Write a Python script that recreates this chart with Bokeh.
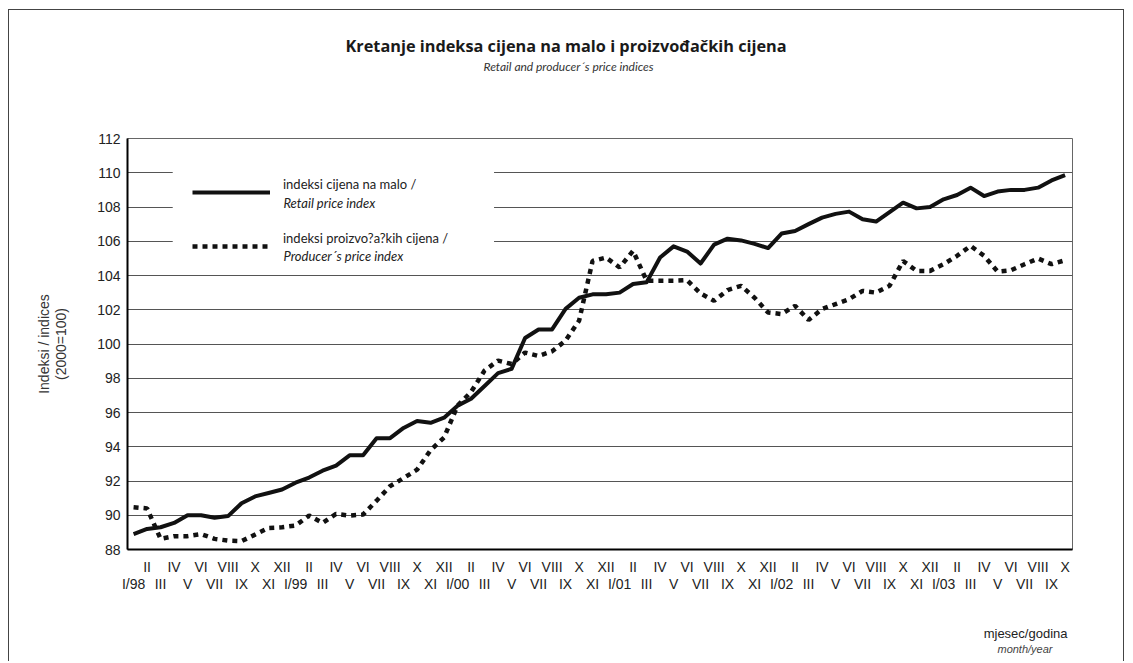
from bokeh.plotting import figure
from bokeh.models import (Range1d, FixedTicker, LinearAxis, Title, Legend, LegendItem, Label,
                          BoxAnnotation)
from bokeh.embed import file_html
from bokeh.resources import INLINE

# ---- data ----
roman = ["I", "II", "III", "IV", "V", "VI", "VII", "VIII", "IX", "X", "XI", "XII"]
years = ["98", "99", "00", "01", "02", "03"]
n_months = 70  # I/98 .. X/03

retail = [88.9, 89.2, 89.3, 89.55, 90.0, 90.0, 89.85, 89.95, 90.7, 91.1,
          91.3, 91.5, 91.9, 92.2, 92.6, 92.9, 93.5, 93.5, 94.5, 94.5,
          95.1, 95.5, 95.4, 95.7, 96.4, 96.8, 97.55, 98.3, 98.55, 100.35,
          100.85, 100.85, 102.05, 102.7, 102.9, 102.9, 103.0, 103.5, 103.6, 105.05,
          105.7, 105.4, 104.7, 105.8, 106.15, 106.05, 105.85, 105.6, 106.45, 106.6,
          107.0, 107.38, 107.6, 107.73, 107.28, 107.15, 107.7, 108.25, 107.92, 108.0,
          108.45, 108.7, 109.13, 108.64, 108.9, 109.0, 109.0, 109.13, 109.55, 109.86]

producer = [90.47, 90.4, 88.62, 88.78, 88.78, 88.9, 88.62, 88.52, 88.49, 88.87,
            89.26, 89.3, 89.4, 89.98, 89.55, 90.08, 89.98, 90.04, 90.85, 91.7,
            92.17, 92.66, 93.8, 94.54, 96.4, 97.2, 98.45, 99.03, 98.83, 99.5,
            99.3, 99.57, 100.2, 101.36, 104.85, 105.05, 104.47, 105.44, 103.7, 103.7,
            103.7, 103.73, 102.95, 102.52, 103.15, 103.4, 102.7, 101.84, 101.75, 102.23,
            101.4, 102.04, 102.33, 102.62, 103.1, 103.0, 103.4, 104.85, 104.27, 104.27,
            104.66, 105.15, 105.73, 105.15, 104.23, 104.31, 104.66, 104.99, 104.66, 104.89]

y_ticks = [88, 90, 92, 94, 96, 98, 100, 102, 104, 106, 108, 110, 112]

# month labels
month_labels = []
for k in range(n_months):
    m = k % 12
    lab = roman[m]
    if m == 0:
        lab = "I/" + years[k // 12]
    month_labels.append(lab)

x = list(range(n_months))

title_text = "Kretanje indeksa cijena na malo i proizvođačkih cijena"
subtitle_text = "Retail and producer´s price indices"

p = figure(width=1116, height=652,
           x_range=Range1d(-0.45, 69.55), y_range=Range1d(88, 112),
           output_backend="svg", toolbar_location=None,
           min_border_left=118, min_border_right=53,
           min_border_top=128, min_border_bottom=113,
           title=title_text)
p.margin = (9, 0, 0, 8)
p.styles = {"border-top": "1px solid #444", "border-left": "1px solid #444",
            "border-right": "1px solid #444"}
p.background_fill_color = "white"
p.border_fill_color = "white"
p.outline_line_color = "#666"
p.outline_line_width = 1

# title (outermost), subtitle and a spacer below it
p.title.align = "left"
p.title.offset = 218
p.title.text_font = "Open Sans"
p.title.text_font_size = "16.3px"
p.title.text_font_style = "bold"
p.title.text_color = "#1a1a1a"
p.title.standoff = 0

spacer_top = Title(text="\u00a0", text_font_size="2px", standoff=61)
p.add_layout(spacer_top, "above")
sub = Title(text=subtitle_text, align="left", offset=356, text_font="Lato",
            text_font_size="12px", text_font_style="italic", text_color="#333333",
            standoff=0)
p.add_layout(sub, "above")

# lines
r1 = p.line(x, retail, line_color="#111111", line_width=4, line_join="round")
r2 = p.line(x, producer, line_color="#111111", line_width=4.5, line_dash="5 5",
            line_cap="butt")

# grid
p.xgrid.visible = False
p.ygrid.ticker = FixedTicker(ticks=y_ticks)
p.ygrid.grid_line_color = "#555555"
p.ygrid.grid_line_width = 1

# y axis
ya = p.yaxis[0]
ya.ticker = FixedTicker(ticks=y_ticks)
ya.axis_line_width = 2
ya.axis_line_color = "black"
ya.major_tick_out = 0
ya.major_tick_in = 0
ya.minor_tick_out = 0
ya.minor_tick_in = 0
ya.major_label_standoff = 7
ya.major_label_text_font = "Liberation Sans"
ya.major_label_text_font_size = "14px"
ya.major_label_text_color = "#222222"
ya.axis_label = "Indeksi / indices\n(2000=100)"
ya.axis_label_text_font = "Liberation Sans"
ya.axis_label_text_font_size = "14px"
ya.axis_label_text_font_style = "normal"
ya.axis_label_text_color = "#333333"
ya.axis_label_text_line_height = 1.05
ya.axis_label_standoff = 25

# x axis: upper row (even months), lower row (odd months)
xa = p.xaxis[0]
odd_idx = [i for i in x if i % 2 == 1]
even_idx = [i for i in x if i % 2 == 0]
xa.ticker = FixedTicker(ticks=odd_idx)
xa.major_label_overrides = {i: month_labels[i] for i in odd_idx}
xa.axis_line_width = 2
xa.axis_line_color = "black"
xa.major_tick_out = 0
xa.major_tick_in = 0
xa.minor_tick_out = 0
xa.minor_tick_in = 0
xa.major_label_standoff = 9
xa.major_label_text_font = "Liberation Sans"
xa.major_label_text_font_size = "14px"
xa.major_label_text_color = "#222222"

xa2 = LinearAxis(ticker=FixedTicker(ticks=even_idx),
                 major_label_overrides={i: month_labels[i] for i in even_idx})
xa2.axis_line_color = None
xa2.major_tick_out = 0
xa2.major_tick_in = 0
xa2.minor_tick_out = 0
xa2.minor_tick_in = 0
xa2.major_label_standoff = -2
xa2.major_label_text_font = "Liberation Sans"
xa2.major_label_text_font_size = "14px"
xa2.major_label_text_color = "#222222"
p.add_layout(xa2, "below")

spacer_bot = Title(text="\u00a0", text_font_size="2px", standoff=25)
p.add_layout(spacer_bot, "below")
t1 = Title(text="mjesec/godina", align="right", offset=5, text_font="Liberation Sans",
           text_font_size="13px", text_font_style="normal", text_color="#222222",
           standoff=0)
p.add_layout(t1, "below")
t2 = Title(text="month/year", align="right", offset=20, text_font="Liberation Sans",
           text_font_size="11px", text_font_style="italic", text_color="#444444",
           standoff=0)
p.add_layout(t2, "below")

# legend: white panel behind it, then legend, then italic second lines
legend_bg = BoxAnnotation(left=2.9, right=26.7, bottom=104.7, top=111.2,
                          fill_color="white", fill_alpha=1.0, line_color=None)
p.add_layout(legend_bg)

legend = Legend(items=[LegendItem(label="indeksi cijena na malo /\n\u00a0", renderers=[r1]),
                       LegendItem(label="indeksi proizvo?a?kih cijena /\n\u00a0", renderers=[r2])],
                location=(65, 287), orientation="vertical",
                glyph_width=78, glyph_height=20, label_standoff=13, spacing=22,
                padding=10, label_width=200,
                label_text_font="Lato", label_text_font_size="13px",
                label_text_color="#222222", label_text_line_height=1.3,
                background_fill_alpha=0.0, border_line_color=None)
p.add_layout(legend)

lab1 = Label(x=11.1, y=108.26, text="Retail price index", text_font="Lato",
             text_font_size="13px", text_font_style="italic", text_color="#222222",
             text_baseline="middle")
lab2 = Label(x=11.1, y=105.11, text="Producer´s price index", text_font="Lato",
             text_font_size="13px", text_font_style="italic", text_color="#222222",
             text_baseline="middle")
p.add_layout(lab1)
p.add_layout(lab2)

open("out.html", "w").write(file_html(p, INLINE))
